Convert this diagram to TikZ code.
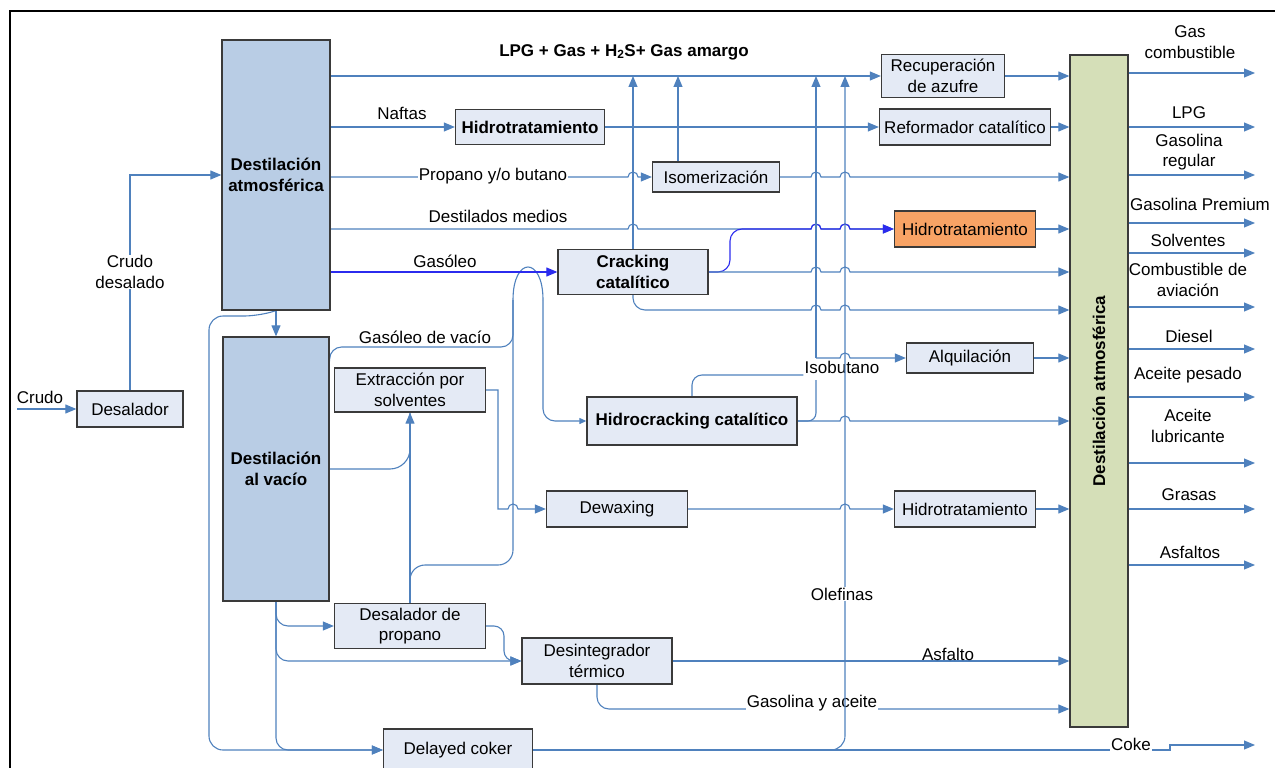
\documentclass[tikz,border=0pt]{standalone}
\usepackage{fontspec}
\setmainfont{Liberation Sans}
\usetikzlibrary{positioning}
\usetikzlibrary{calc}
\usetikzlibrary{arrows.meta}
\usetikzlibrary{backgrounds}

\definecolor{flow}{HTML}{4F81BD}
\definecolor{flowdark}{HTML}{2B2BEE}
\definecolor{unitfill}{HTML}{E4EAF5}
\definecolor{towerfill}{HTML}{B9CDE5}
\definecolor{hotfill}{HTML}{F8A365}
\definecolor{productfill}{HTML}{D5DFB8}
\definecolor{edge}{HTML}{3A3A3A}

\tikzset{
  bold/.style={font=\fontsize{17}{20.5}\selectfont\bfseries},
  unit/.style={draw=edge, line width=1.3pt, fill=unitfill, inner sep=0pt, align=center},
  tower/.style={unit, fill=towerfill, bold},
  stream/.style={draw=flow, line width=1.1pt},
  feed/.style={stream, -{Triangle[length=11pt,width=9pt]}},
  feedsmall/.style={stream, -{Triangle[length=7pt,width=6pt]}},
  hotstream/.style={feed, draw=flowdark},
  flowlabel/.style={inner sep=1pt, align=center},
  flowlabelw/.style={flowlabel, fill=white},
}
\newcommand{\hopover}[2]{-- (#1-5,#2) arc[start angle=180, end angle=0, radius=5pt]}

\begin{document}
\begin{tikzpicture}[x=1pt, y=-1pt, font=\fontsize{17}{20.5}\selectfont]

\useasboundingbox (0,0) rectangle (1275,768);
\draw[line width=2pt] (10,790) -- (10,11) -- (1290,11);

\node[unit, minimum width=106pt, minimum height=36pt] (DESAL) at (130,409) {Desalador};
\node[tower, minimum width=108pt, minimum height=270pt] (ATM) at (276,175) {Destilación\\atmosférica};
\node[tower, minimum width=106pt, minimum height=264pt] (VAC) at (276,469) {Destilación\\al vacío};
\node[unit, bold, minimum width=149pt, minimum height=35pt] (HDT1) at (530,127) {Hidrotratamiento};
\node[unit, minimum width=127pt, minimum height=30pt] (ISOM) at (716,177) {Isomerización};
\node[unit, bold, minimum width=150pt, minimum height=45pt] (FCC) at (633,272) {Cracking\\catalítico};
\node[unit, bold, minimum width=210pt, minimum height=48pt] (HCK) at (692,421) {Hidrocracking catalítico};
\node[unit, minimum width=151pt, minimum height=44pt] (EXTR) at (410,390) {Extracción por\\solventes};
\node[unit, minimum width=141pt, minimum height=36pt] (DEWAX) at (617,509) {Dewaxing};
\node[unit, minimum width=151pt, minimum height=45pt] (DESPRO) at (410,626) {Desalador de\\propano};
\node[unit, minimum width=150pt, minimum height=46pt] (DESINT) at (597,661) {Desintegrador\\térmico};
\node[unit, minimum width=149pt, minimum height=42pt] (COKER) at (458,750) {Delayed coker};
\node[unit, minimum width=123pt, minimum height=43pt] (RECUP) at (943,76) {Recuperación\\de azufre};
\node[unit, minimum width=171pt, minimum height=36pt] (REFORM) at (965,127) {Reformador catalítico};
\node[unit, fill=hotfill, minimum width=141pt, minimum height=36pt] (HDT2) at (965,229) {Hidrotratamiento};
\node[unit, minimum width=127pt, minimum height=30pt] (ALQ) at (970,358) {Alquilación};
\node[unit, minimum width=141pt, minimum height=36pt] (HDT3) at (965,509) {Hidrotratamiento};
\node[unit, fill=productfill, minimum width=58pt, minimum height=672pt] (COL) at (1099,391) {};
\node[bold, rotate=90] (COLTXT) at (COL) {Destilación atmosférica};

\node[flowlabel] (CRUDO) at (40,397) {Crudo};
\node[flowlabelw] (CDESAL) at (130,272) {Crudo\\desalado};
\node[bold, inner sep=1pt] (LPGLBL) at (624,52) {LPG + Gas + H\textsubscript{2}S+ Gas amargo};
\node[flowlabel] (NAFTAS) at (402,113) {Naftas};
\node[flowlabelw] (PROPANO) at (493,176) {Propano y/o butano};
\node[flowlabel] (DMEDIOS) at (498,216) {Destilados medios};
\node[flowlabel] (GASOLEO) at (445,261) {Gasóleo};
\node[flowlabel] (GVACIO) at (425,337) {Gasóleo de vacío};
\node[flowlabel] (ISOB) at (842,367) {Isobutano};
\node[flowlabel] (ASFALTO) at (948,654) {Asfalto};
\node[flowlabelw] (COKELBL) at (1131,744) {Coke};

\coordinate (CRUDOIN) at (17,409);
\coordinate (ARCHL) at (513,300);
\coordinate (ARCHR) at (543,300);
\coordinate (IBJ) at (816,358);
\coordinate (IBL) at (816,380);
\coordinate (OLEF) at (845,750);
\coordinate (COKE) at (1255,745);

\begin{pgfonlayer}{background}
\draw[feed] (CRUDOIN) -- (DESAL);
\draw[feed] (DESAL.north) |- (ATM.west);
\draw[feed] (ATM.south) -- (VAC.north);
\draw[feed, rounded corners=14pt] (ATM.south) -- (258,316) -- (209,316) -- (209,750) -- (COKER.west);

\draw[feed, rounded corners=12pt] (VAC.south) |- (DESPRO.west);
\draw[feed, rounded corners=12pt] (VAC.south) |- (DESINT.west);
\draw[feed, rounded corners=12pt] (VAC.south) |- (COKER.west);
\draw[feed, rounded corners=10pt] (DESPRO.east) -- (504,626) |- (DESINT.west);

\draw[stream, rounded corners=20pt] (VAC.east) -| (EXTR.south);
\draw[feed] (DESPRO.north) -- (EXTR.south);
\draw[stream, rounded corners=15pt] (DESPRO.north) |- (513,565) -- (ARCHL);
\draw[stream, rounded corners=12pt] ([yshift=-25pt]VAC.north east) |- (513,347) -- (ARCHL);
\draw[stream] (ARCHL) .. controls (513,256) and (543,256) .. (ARCHR);
\draw[feedsmall, rounded corners=12pt] (ARCHR) |- (HCK.west);

\draw[feed] (EXTR.east) -- (498,390) -- (498,509) \hopover{513}{509} -- (DEWAX.west);
\draw[feed] (DEWAX.east) \hopover{845}{509} -- (HDT3.west);
\draw[feed] (HDT3.east) -- (HDT3.east -| COL.west);

\draw[feed] (RECUP.west -| ATM.east) -- (RECUP.west);
\draw[feed] (HDT1.west -| ATM.east) -- (HDT1.west);
\draw[feed] (HDT1.east) -- (REFORM.west);
\draw[feed] (ISOM.west -| ATM.east) \hopover{633}{177} -- (ISOM.west);
\draw[feed] (HDT2.west -| ATM.east) \hopover{633}{229} \hopover{816}{229} \hopover{845}{229} -- (HDT2.west);
\draw[hotstream] (FCC.west -| ATM.east) -- (FCC.west);
\draw[hotstream, rounded corners=12pt] (FCC.east) -- (730,272) -- (730,229) -- (790,229) [sharp corners] \hopover{816}{229} \hopover{845}{229} -- (HDT2.west);
\draw[feed] (FCC.east) \hopover{816}{272} \hopover{845}{272} -- (FCC.east -| COL.west);
\draw[feed] (FCC.north) -- (FCC.north |- RECUP.west);
\draw[feed, rounded corners=12pt] (FCC.south) |- (700,310) [sharp corners] \hopover{816}{310} \hopover{845}{310} -- (COL.west |- 0,310);

\draw[feed] ([xshift=-38pt]ISOM.north) -- ([xshift=-38pt]ISOM.north |- RECUP.west);
\draw[feed] (ISOM.east) \hopover{816}{177} \hopover{845}{177} -- (ISOM.east -| COL.west);
\draw[feed] (RECUP.east) -- (RECUP.east -| COL.west);
\draw[feed] (REFORM.east) -- (REFORM.east -| COL.west);
\draw[feed] (HDT2.east) -- (HDT2.east -| COL.west);

\draw[stream, rounded corners=10pt] (HCK.north) |- ([yshift=-8pt]ISOB.west);
\draw[stream, rounded corners=8pt] (HCK.east) -| (IBL);
\draw[feed] (IBJ) -- (IBJ |- RECUP.west);
\draw[feed] (IBJ) \hopover{845}{358} -- (ALQ.west);
\draw[feed] (ALQ.east) -- (ALQ.east -| COL.west);
\draw[feed] (HCK.east) \hopover{845}{421} -- (HCK.east -| COL.west);

\draw[feed] (DESINT.east) -- (DESINT.east -| COL.west);
\draw[feed, rounded corners=12pt] (DESINT.south) |- (COL.west |- 0,709);
\draw[feed] (COKER.east) -- (1170,750) -- (1170,745) -- (COKE);
\end{pgfonlayer}

\node[flowlabelw] (GYACEITE) at (812,703) {Gasolina y aceite};
\draw[feed, rounded corners=14pt] (COKER.east) -| (OLEF |- RECUP.west);
\node[flowlabelw] (OLEFINAS) at (842,594) {Olefinas};

\foreach \y/\lx/\ly/\name in {73/1190/42/{Gas\\combustible}, 127/1189/113/LPG,
    175/1189/152/{Gasolina\\regular}, 223/1200/204/{Gasolina Premium},
    253/1188/240/Solventes, 307/1188/280/{Combustible de\\aviación},
    349/1189/336/Diesel, 397/1188/375/{Aceite pesado},
    463/1188/426/{Aceite\\lubricante}, 509/1189/495/Grasas, 565/1190/552/Asfaltos}{
  \coordinate (P\y) at (1255,\y);
  \draw[feed] (COL.east |- P\y) -- (P\y);
  \node[flowlabel] (L\y) at (\lx,\ly) {\name};
}

\end{tikzpicture}
\end{document}
